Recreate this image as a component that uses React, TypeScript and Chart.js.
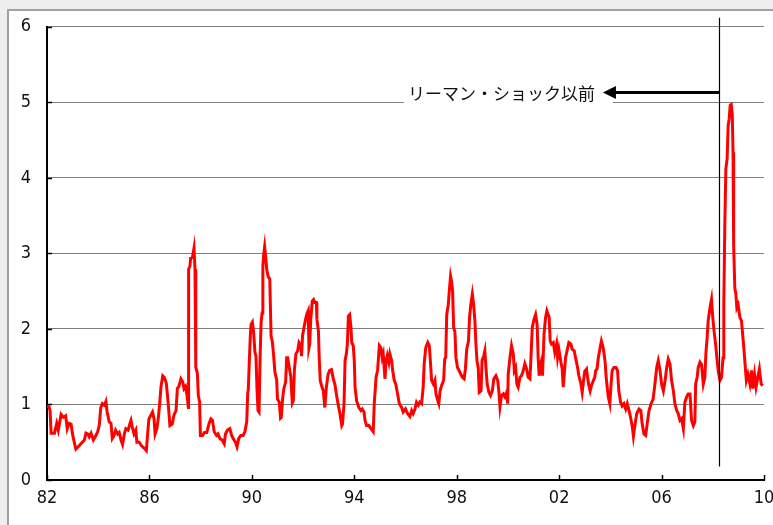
import React, { useEffect, useRef } from "react";
import { Chart, registerables } from "chart.js";
Chart.register(...registerables);

// decimal year of each observation
const years = [
  1982.00, 1982.08, 1982.12, 1982.16, 1982.29, 1982.38, 1982.44, 1982.55, 1982.64, 1982.73, 1982.79, 1982.86, 1982.94, 1982.99,
  1983.07, 1983.13, 1983.22, 1983.35, 1983.46, 1983.52, 1983.59, 1983.65, 1983.72, 1983.81, 1983.88, 1983.98,
  1984.04, 1984.10, 1984.16, 1984.24, 1984.30, 1984.35, 1984.43, 1984.50, 1984.55, 1984.62, 1984.68, 1984.76, 1984.82, 1984.89, 1984.95,
  1985.02, 1985.08, 1985.17, 1985.24, 1985.28, 1985.33, 1985.40, 1985.47, 1985.51, 1985.60, 1985.70, 1985.80, 1985.88, 1985.93, 1985.98,
  1986.06, 1986.12, 1986.18, 1986.22, 1986.29, 1986.35, 1986.40, 1986.45, 1986.52, 1986.58, 1986.66, 1986.71, 1986.76, 1986.80, 1986.89, 1986.96,
  1987.04, 1987.09, 1987.15, 1987.23, 1987.30, 1987.35, 1987.41, 1987.47, 1987.52, 1987.53, 1987.58, 1987.61, 1987.68, 1987.74, 1987.78, 1987.81, 1987.87, 1987.91, 1987.96, 1987.99,
  1988.07, 1988.15, 1988.24, 1988.33, 1988.40, 1988.46, 1988.53, 1988.62, 1988.68, 1988.75, 1988.84, 1988.92, 1988.97,
  1989.05, 1989.14, 1989.21, 1989.27, 1989.36, 1989.42, 1989.49, 1989.57, 1989.66, 1989.73, 1989.80, 1989.84, 1989.86, 1989.90, 1989.94, 1989.97,
  1990.02, 1990.07, 1990.12, 1990.16, 1990.20, 1990.24, 1990.28, 1990.32, 1990.36, 1990.40, 1990.43, 1990.46, 1990.50, 1990.54, 1990.58, 1990.64, 1990.70, 1990.75, 1990.80, 1990.84, 1990.90, 1990.97,
  1991.00, 1991.07, 1991.12, 1991.15, 1991.20, 1991.25, 1991.32, 1991.36, 1991.40, 1991.48, 1991.52, 1991.58, 1991.62, 1991.66, 1991.72, 1991.79, 1991.84, 1991.91, 1991.94, 1991.98,
  1992.03, 1992.10, 1992.15, 1992.20, 1992.23, 1992.26, 1992.30, 1992.36, 1992.41, 1992.46, 1992.52, 1992.54, 1992.60, 1992.63, 1992.67, 1992.72, 1992.79, 1992.85, 1992.91, 1992.98,
  1993.04, 1993.11, 1993.18, 1993.24, 1993.31, 1993.37, 1993.44, 1993.51, 1993.54, 1993.60, 1993.64, 1993.69, 1993.73, 1993.77, 1993.82, 1993.87, 1993.90, 1993.96,
  1994.00, 1994.03, 1994.09, 1994.18, 1994.26, 1994.31, 1994.38, 1994.42, 1994.48, 1994.57, 1994.65, 1994.74, 1994.78, 1994.85, 1994.91, 1994.98,
  1995.04, 1995.09, 1995.13, 1995.20, 1995.24, 1995.29, 1995.35, 1995.39, 1995.46, 1995.50, 1995.56, 1995.62, 1995.69, 1995.76, 1995.85, 1995.91,
  1996.00, 1996.08, 1996.17, 1996.24, 1996.30, 1996.37, 1996.43, 1996.50, 1996.56, 1996.63, 1996.69, 1996.73, 1996.79, 1996.87, 1996.93, 1996.97,
  1997.02, 1997.09, 1997.15, 1997.19, 1997.26, 1997.30, 1997.35, 1997.41, 1997.49, 1997.53, 1997.57, 1997.61, 1997.67, 1997.71, 1997.76, 1997.80, 1997.84, 1997.88, 1997.93, 1997.97,
  1998.03, 1998.09, 1998.16, 1998.22, 1998.29, 1998.34, 1998.39, 1998.46, 1998.50, 1998.55, 1998.61, 1998.66, 1998.71, 1998.75, 1998.79, 1998.84, 1998.88, 1998.95, 1998.99,
  1999.06, 1999.10, 1999.14, 1999.19, 1999.26, 1999.32, 1999.39, 1999.45, 1999.53, 1999.60, 1999.65, 1999.69, 1999.75, 1999.82, 1999.88, 1999.95, 1999.99,
  2000.01, 2000.08, 2000.14, 2000.21, 2000.25, 2000.30, 2000.35, 2000.40, 2000.47, 2000.53, 2000.60, 2000.66, 2000.73, 2000.79, 2000.86, 2000.90, 2000.95,
  2001.02, 2001.08, 2001.14, 2001.18, 2001.22, 2001.27, 2001.31, 2001.35, 2001.41, 2001.47, 2001.52, 2001.57, 2001.61, 2001.65, 2001.70, 2001.77, 2001.83, 2001.90, 2001.94, 2001.99,
  2002.07, 2002.12, 2002.16, 2002.20, 2002.25, 2002.32, 2002.38, 2002.46, 2002.51, 2002.59, 2002.64, 2002.72, 2002.77, 2002.84, 2002.90, 2002.95,
  2003.00, 2003.07, 2003.11, 2003.16, 2003.21, 2003.26, 2003.33, 2003.39, 2003.43, 2003.48, 2003.53, 2003.59, 2003.65, 2003.72, 2003.79, 2003.85, 2003.92, 2003.98,
  2004.02, 2004.07, 2004.14, 2004.22, 2004.28, 2004.33, 2004.40, 2004.46, 2004.53, 2004.60, 2004.66, 2004.73, 2004.79, 2004.86, 2004.90, 2004.97,
  2005.03, 2005.12, 2005.19, 2005.24, 2005.31, 2005.38, 2005.44, 2005.51, 2005.59, 2005.67, 2005.74, 2005.81, 2005.87, 2005.94,
  2006.00, 2006.07, 2006.14, 2006.20, 2006.26, 2006.33, 2006.39, 2006.46, 2006.52, 2006.59, 2006.65, 2006.72, 2006.78, 2006.85, 2006.91, 2006.98,
  2007.04, 2007.11, 2007.17, 2007.24, 2007.30, 2007.33, 2007.39, 2007.43, 2007.50, 2007.56, 2007.63, 2007.69, 2007.73, 2007.78, 2007.82, 2007.89, 2007.95,
  2008.00, 2008.05, 2008.11, 2008.16, 2008.21, 2008.28, 2008.34, 2008.40, 2008.43, 2008.47, 2008.51, 2008.56, 2008.60, 2008.64, 2008.68, 2008.72, 2008.76, 2008.79, 2008.81, 2008.82, 2008.86, 2008.90, 2008.94, 2008.99,
  2009.06, 2009.12, 2009.19, 2009.23, 2009.27, 2009.31, 2009.37, 2009.45, 2009.51, 2009.56, 2009.63, 2009.69, 2009.76, 2009.82, 2009.89, 2009.95,
];

const values = [
  0.97, 0.97, 0.92, 0.62, 0.62, 0.75, 0.66, 0.87, 0.83, 0.85, 0.68, 0.75, 0.74, 0.62,
  0.49, 0.41, 0.44, 0.49, 0.53, 0.62, 0.61, 0.57, 0.62, 0.53, 0.57, 0.64,
  0.72, 0.96, 1.01, 0.99, 1.04, 0.90, 0.77, 0.75, 0.55, 0.59, 0.66, 0.61, 0.63, 0.53, 0.47,
  0.61, 0.68, 0.66, 0.75, 0.79, 0.70, 0.61, 0.66, 0.50, 0.50, 0.45, 0.42, 0.39, 0.61, 0.81,
  0.86, 0.90, 0.81, 0.61, 0.68, 0.83, 1.01, 1.23, 1.38, 1.36, 1.28, 1.10, 0.90, 0.72, 0.74, 0.86,
  0.92, 1.21, 1.24, 1.34, 1.30, 1.21, 1.24, 1.12, 0.96, 2.79, 2.83, 2.94, 2.95, 3.07, 2.79, 1.49, 1.42, 1.12, 1.03, 0.59,
  0.59, 0.63, 0.63, 0.75, 0.81, 0.79, 0.64, 0.59, 0.61, 0.55, 0.53, 0.48, 0.61,
  0.66, 0.68, 0.59, 0.55, 0.50, 0.44, 0.55, 0.59, 0.59, 0.64, 0.77, 1.16, 1.19, 1.56, 1.91, 2.06,
  2.09, 1.95, 1.69, 1.64, 1.21, 0.92, 0.90, 1.60, 2.08, 2.21, 2.83, 2.98, 3.09, 2.95, 2.79, 2.69, 2.66, 1.91, 1.83, 1.69, 1.43, 1.32,
  1.07, 1.03, 0.82, 0.83, 1.07, 1.21, 1.30, 1.62, 1.62, 1.45, 1.37, 1.02, 1.05, 1.45, 1.67, 1.71, 1.82, 1.78, 1.64, 1.91,
  2.01, 2.13, 2.20, 2.24, 1.75, 1.80, 2.13, 2.37, 2.39, 2.35, 2.35, 2.13, 1.97, 1.62, 1.32, 1.25, 1.18, 0.96, 1.23, 1.40,
  1.45, 1.46, 1.34, 1.27, 1.12, 1.00, 0.88, 0.72, 0.74, 1.01, 1.58, 1.67, 1.80, 2.17, 2.19, 2.02, 1.82, 1.78,
  1.58, 1.23, 1.05, 0.96, 0.92, 0.94, 0.90, 0.79, 0.72, 0.72, 0.68, 0.64, 1.01, 1.36, 1.45, 1.78,
  1.75, 1.62, 1.67, 1.34, 1.58, 1.65, 1.56, 1.67, 1.58, 1.45, 1.32, 1.27, 1.14, 1.01, 0.96, 0.90,
  0.94, 0.88, 0.84, 0.92, 0.88, 0.94, 1.03, 0.99, 1.03, 1.01, 1.23, 1.54, 1.75, 1.82, 1.78, 1.58,
  1.32, 1.27, 1.32, 1.14, 1.05, 1.01, 1.18, 1.25, 1.32, 1.60, 1.62, 2.19, 2.32, 2.50, 2.70, 2.63, 2.50, 2.02, 1.96, 1.62,
  1.49, 1.45, 1.40, 1.36, 1.34, 1.47, 1.73, 1.84, 2.15, 2.32, 2.46, 2.32, 2.11, 1.80, 1.58, 1.49, 1.16, 1.18, 1.58,
  1.65, 1.71, 1.49, 1.27, 1.16, 1.12, 1.18, 1.34, 1.38, 1.32, 1.16, 0.97, 1.12, 1.14, 1.10, 1.16, 1.01,
  1.40, 1.62, 1.78, 1.67, 1.45, 1.49, 1.27, 1.23, 1.36, 1.38, 1.45, 1.54, 1.47, 1.36, 1.34, 1.62, 2.02,
  2.13, 2.19, 2.06, 1.62, 1.38, 1.53, 1.58, 1.38, 1.93, 2.15, 2.24, 2.19, 2.15, 1.84, 1.80, 1.82, 1.69, 1.80, 1.62, 1.73,
  1.56, 1.47, 1.23, 1.40, 1.62, 1.73, 1.82, 1.80, 1.73, 1.71, 1.62, 1.49, 1.38, 1.29, 1.16, 1.31,
  1.44, 1.47, 1.36, 1.25, 1.18, 1.25, 1.31, 1.36, 1.45, 1.47, 1.62, 1.73, 1.84, 1.75, 1.58, 1.31, 1.10, 1.01,
  1.23, 1.45, 1.49, 1.49, 1.45, 1.18, 1.03, 0.98, 1.01, 0.94, 1.01, 0.92, 0.83, 0.70, 0.58, 0.75,
  0.88, 0.94, 0.92, 0.75, 0.61, 0.59, 0.75, 0.92, 1.01, 1.07, 1.27, 1.49, 1.58, 1.45,
  1.27, 1.18, 1.32, 1.49, 1.60, 1.53, 1.32, 1.18, 1.01, 0.92, 0.88, 0.79, 0.81, 0.68, 1.03, 1.10,
  1.14, 1.14, 0.79, 0.72, 0.77, 1.27, 1.36, 1.49, 1.56, 1.53, 1.27, 1.36, 1.67, 1.89, 2.11, 2.28, 2.39,
  2.15, 1.97, 1.80, 1.62, 1.45, 1.32, 1.36, 1.62, 2.32, 3.38, 4.12, 4.25, 4.69, 4.78, 4.96, 4.97, 4.85, 4.34, 3.95, 3.11, 2.54, 2.47, 2.28, 2.32,
  2.15, 2.11, 1.84, 1.67, 1.49, 1.32, 1.40, 1.27, 1.45, 1.21, 1.40, 1.23, 1.36, 1.47, 1.27, 1.25,
];

const xMin = 1982;
const xMax = 2010;
const xStep = 4;
const yMin = 0;
const yMax = 6;

const lehmanYear = 2008.23;
const lehmanLineBottom = 0.18;
const arrowLevel = 5.13;
const arrowTipYear = 2003.71;
const annotationText = "リーマン・ショック以前";

const labelFont = "'Liberation Sans Narrow', 'DejaVu Sans Condensed', 'Noto Sans CJK JP', sans-serif";
const annotFont = "17px 'Noto Sans CJK JP', sans-serif";

const overlayPlugin = {
  id: "overlay",
  beforeDatasetsDraw(chart: any) {
    const { ctx, chartArea, scales } = chart;
    const xs = scales.x;
    const ys = scales.y;
    ctx.save();
    // inner tick marks
    ctx.strokeStyle = "#000";
    ctx.lineWidth = 1.5;
    for (let v = xMin; v <= xMax; v += xStep) {
      const px = Math.round(xs.getPixelForValue(v)) + 0.5;
      ctx.beginPath();
      ctx.moveTo(px, chartArea.bottom);
      ctx.lineTo(px, chartArea.bottom - 5);
      ctx.stroke();
    }
    for (let v = yMin; v <= yMax; v += 1) {
      const py = Math.round(ys.getPixelForValue(v)) + 0.5;
      ctx.beginPath();
      ctx.moveTo(chartArea.left, py);
      ctx.lineTo(chartArea.left + 5, py);
      ctx.stroke();
    }
    // white box behind annotation text
    const ay = ys.getPixelForValue(arrowLevel);
    const tipX = xs.getPixelForValue(arrowTipYear);
    ctx.font = annotFont;
    const tw = ctx.measureText(annotationText).width;
    const textRight = tipX - 8;
    ctx.fillStyle = "#fff";
    ctx.fillRect(textRight - tw - 4, ay - 12, tw + 4 + (tipX - textRight) + 10, 26);
    ctx.restore();
  },
  afterDraw(chart: any) {
    const { ctx, chartArea, scales } = chart;
    const xs = scales.x;
    const ys = scales.y;
    ctx.save();
    const lx = Math.round(xs.getPixelForValue(lehmanYear)) + 0.5;
    ctx.strokeStyle = "#000";
    ctx.lineWidth = 1.2;
    ctx.beginPath();
    ctx.moveTo(lx, chartArea.top - 9);
    ctx.lineTo(lx, ys.getPixelForValue(lehmanLineBottom));
    ctx.stroke();

    const ay = ys.getPixelForValue(arrowLevel);
    const tipX = xs.getPixelForValue(arrowTipYear);
    ctx.lineWidth = 3;
    ctx.beginPath();
    ctx.moveTo(lx, ay);
    ctx.lineTo(tipX + 10, ay);
    ctx.stroke();
    ctx.fillStyle = "#000";
    ctx.beginPath();
    ctx.moveTo(tipX, ay);
    ctx.lineTo(tipX + 13, ay - 6.5);
    ctx.lineTo(tipX + 13, ay + 6.5);
    ctx.closePath();
    ctx.fill();

    ctx.font = annotFont;
    ctx.textAlign = "right";
    ctx.textBaseline = "middle";
    ctx.fillStyle = "#111";
    ctx.fillText(annotationText, tipX - 8, ay + 1);
    ctx.restore();
  },
};

export default function App() {
  const ref = useRef<HTMLCanvasElement | null>(null);
  useEffect(() => {
    if (!ref.current) return;
    const chart = new Chart(ref.current, {
      type: "line",
      data: {
        datasets: [
          {
            data: years.map((y, i) => ({ x: y, y: values[i] })),
            borderColor: "#ff0000",
            borderWidth: 3,
            pointRadius: 0,
            tension: 0,
            fill: false,
          },
        ],
      },
      options: {
        animation: false,
        responsive: false,
        maintainAspectRatio: false,
        layout: { padding: { left: 0, right: 9, top: 24, bottom: 0 } },
        plugins: { legend: { display: false }, tooltip: { enabled: false } },
        scales: {
          x: {
            type: "linear",
            min: xMin,
            max: xMax,
            afterFit: (s: any) => {
              s.height = 45;
              s.paddingLeft = 0;
              s.paddingRight = 0;
            },
            afterBuildTicks: (s: any) => {
              const t = [];
              for (let v = xMin; v <= xMax; v += xStep) t.push({ value: v });
              s.ticks = t;
            },
            grid: { display: true, color: "rgba(0,0,0,0)", drawTicks: false },
            border: { display: true, color: "#000", width: 2 },
            ticks: {
              padding: 8,
              color: "#111",
              font: { family: labelFont, size: 18 },
              maxRotation: 0,
              autoSkip: false,
              callback: (v: any) => String(Math.round(v) % 100).padStart(2, "0"),
            },
          },
          y: {
            min: yMin,
            max: yMax,
            afterFit: (s: any) => { s.width = 47; },
            grid: { color: "#808080", lineWidth: 1, drawTicks: false },
            border: { display: true, color: "#000", width: 2 },
            ticks: {
              stepSize: 1,
              padding: 16,
              color: "#111",
              font: { family: labelFont, size: 18 },
            },
          },
        },
      },
      plugins: [overlayPlugin],
    });
    return () => chart.destroy();
  }, []);

  return (
    <div style={{ position: "fixed", left: 0, top: 0, width: 773, height: 525, background: "#eeeeee", overflow: "hidden" }}>
      <div style={{ position: "absolute", left: 7, top: 9, width: 800, height: 560, background: "#fff", border: "2px solid #a0a0a0" }} />
      <canvas ref={ref} width={773} height={525} style={{ position: "absolute", left: 0, top: 0, width: 773, height: 525 }} />
    </div>
  );
}
